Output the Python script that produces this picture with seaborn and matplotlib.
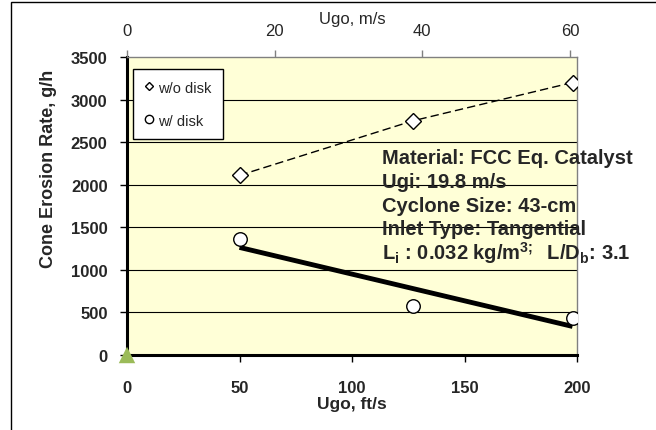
import matplotlib
matplotlib.use("Agg")
import matplotlib.pyplot as plt
from matplotlib.lines import Line2D
from matplotlib.patches import Rectangle
import seaborn as sns

# ── data ────────────────────────────────────────────────
ugo_fts = [50, 127, 198]                 # Ugo, ft/s
rate_wo_disk = [2110, 2750, 3200]        # g/h, w/o disk
rate_w_disk = [1360, 580, 440]           # g/h, w/ disk
origin_x = [0]
origin_y = [0]

ft_to_m = 0.3048
x_max_fts = 200
y_ticks = [0, 500, 1000, 1500, 2000, 2500, 3000, 3500]
x_ticks = [0, 50, 100, 150, 200]
top_ticks = [0, 20, 40, 60]

notes = [
    "Material: FCC Eq. Catalyst",
    "Ugi: 19.8 m/s",
    "Cyclone Size: 43-cm",
    "Inlet Type: Tangential",
    r"L$_\mathregular{i}$ : 0.032 kg/m$^\mathregular{3;}$  L/D$_\mathregular{b}$: 3.1",
]

# ── style ───────────────────────────────────────────────
sns.set_style("white")
plt.rcParams['font.family'] = ['Liberation Sans', 'DejaVu Sans']
plt.rcParams['font.size'] = 12

fig = plt.figure(figsize=(6.56, 4.31), dpi=100)
ax = fig.add_axes([127 / 656, 1 - 356 / 431, 450 / 656, 298 / 431])
ax.set_facecolor('#FFFFD7')

# outer frame (only top and left edges show)
fig.patches.append(Rectangle((10.5 / 656, -0.1), 1.2, 1.1 - 2.5 / 431,
                             transform=fig.transFigure, fill=False,
                             edgecolor='black', lw=1))

# ── grid ────────────────────────────────────────────────
for yv in y_ticks[1:-1]:
    ax.axhline(yv, color='black', lw=0.8, zorder=1)

# ── series ──────────────────────────────────────────────
sns.lineplot(x=ugo_fts, y=rate_wo_disk, ax=ax, color='black', lw=1,
             linestyle=(0, (6, 3)), marker='D', markersize=8,
             markerfacecolor='white', markeredgecolor='black',
             markeredgewidth=1, zorder=3)

sns.regplot(x=ugo_fts, y=rate_w_disk, ax=ax, scatter=False, ci=None,
            line_kws=dict(color='black', lw=3.5, zorder=3,
                          solid_capstyle='butt'))

sns.scatterplot(x=ugo_fts, y=rate_w_disk, ax=ax, marker='o', s=95,
                facecolor='white', edgecolor='black', linewidth=1, zorder=4)

sns.scatterplot(x=origin_x, y=origin_y, ax=ax, marker='^', s=140,
                color='#9BBB59', edgecolor='none', clip_on=False, zorder=6)

# ── axes ────────────────────────────────────────────────
ax.set_xlim(0, x_max_fts)
ax.set_ylim(0, 3500)
ax.set_xticks(x_ticks)
ax.set_yticks(y_ticks)
ax.tick_params(axis='both', direction='out', length=5, width=1,
               color='black', labelsize=12)
ax.tick_params(axis='y', pad=9, left=True)
ax.tick_params(axis='x', pad=13, bottom=True)
for lab in ax.get_xticklabels() + ax.get_yticklabels():
    lab.set_fontweight('bold')

for side in ['left', 'bottom']:
    ax.spines[side].set_color('black')
    ax.spines[side].set_linewidth(2.2)
for side in ['top', 'right']:
    ax.spines[side].set_color('#808080')
    ax.spines[side].set_linewidth(1)

ax.set_xlabel("Ugo, ft/s", fontweight='bold', fontsize=12.5)
ax.xaxis.set_label_coords(0.5, -0.138)
ax.set_ylabel("Cone Erosion Rate, g/h", fontweight='bold', fontsize=13)
ax.yaxis.set_label_coords(-0.155, 0.629)

top = ax.twiny()
top.set_xlim(0, x_max_fts * ft_to_m)
top.set_xticks(top_ticks)
top.tick_params(axis='x', direction='out', length=5, width=1,
                color='#808080', labelsize=12, pad=9)
top.set_xlabel("Ugo, m/s", fontsize=12)
top.xaxis.set_label_coords(0.5, 1.115)
for s in top.spines.values():
    s.set_visible(False)

# ── legend ──────────────────────────────────────────────
handles = [
    Line2D([], [], ls='none', marker='D', markersize=4.5,
           mfc='white', mec='black', mew=1),
    Line2D([], [], ls='none', marker='o', markersize=6,
           mfc='white', mec='black', mew=1),
]
leg = ax.legend(handles, ["w/o disk", "w/ disk"], loc='upper left',
                bbox_to_anchor=(0.013, 0.96), fontsize=10.5,
                frameon=True, fancybox=False, framealpha=1,
                edgecolor='black', handlelength=0.6, handletextpad=0.3,
                labelspacing=1.3, borderpad=0.8, borderaxespad=0)
leg.get_frame().set_linewidth(1)
leg.set_zorder(7)

# ── notes ───────────────────────────────────────────────
for i, line in enumerate(notes):
    ax.text(0.567, 0.662 - 0.0795 * i, line, transform=ax.transAxes,
            fontsize=14.5, fontweight='bold', ha='left', va='center',
            zorder=8, clip_on=False)

fig.savefig("out.png", dpi=100)
